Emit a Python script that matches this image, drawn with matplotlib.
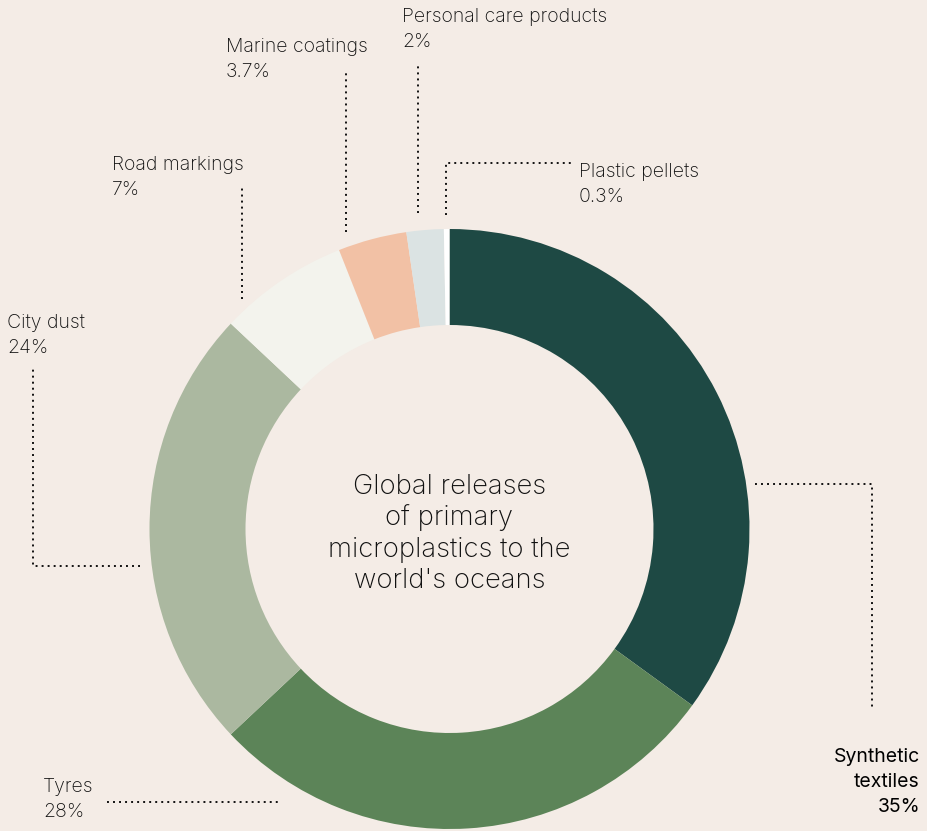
import matplotlib.pyplot as plt

# data
labels = ["Synthetic textiles", "Tyres", "City dust", "Road markings",
          "Marine coatings", "Personal care products", "Plastic pellets"]
values = [35, 28, 24, 7, 3.7, 2, 0.3]
pct_labels = ["35%", "28%", "24%", "7%", "3.7%", "2%", "0.3%"]
colors = ["#1e4944", "#5c8458", "#abb8a0", "#f3f3ed", "#f2c1a5", "#dbe3e3", "#ffffff"]

title_lines = ["Global releases", "of primary", "microplastics to the", "world's oceans"]

W, H = 927, 831
bg = "#f4ece6"
plt.rcParams['font.family'] = ['Inter', 'DejaVu Sans']

fig = plt.figure(figsize=(W / 100, H / 100), dpi=100, facecolor=bg)
ax = fig.add_axes([0, 0, 1, 1])
ax.set_facecolor(bg)


def Y(y):
    # pixel row (from top) -> data y
    return H - y


cx, cy, r = 449.5, 529, 300
ax.pie(values, colors=colors, startangle=90, counterclock=False,
       center=(cx, Y(cy)), radius=r, frame=True,
       wedgeprops=dict(width=96, linewidth=0))
ax.set_xlim(0, W)
ax.set_ylim(0, H)
ax.set_aspect('equal')
ax.axis('off')

# centre title
for i, line in enumerate(title_lines):
    ax.text(cx, Y(494 + i * 31.3), line, ha='center', va='baseline',
            fontsize=19.8, color='#111111', fontweight='light')

# labels: (x, first baseline, align)
label_pos = {
    "Synthetic textiles": (920, 762, 'right'),
    "Tyres": (43, 792, 'left'),
    "City dust": (7, 328, 'left'),
    "Road markings": (112, 170, 'left'),
    "Marine coatings": (226, 52, 'left'),
    "Personal care products": (402, 22, 'left'),
    "Plastic pellets": (579, 177, 'left'),
}

# leader lines (pixel polylines)
leaders = {
    "Synthetic textiles": [(755, 484), (872, 484), (872, 710)],
    "Tyres": [(107, 802), (281, 802)],
    "City dust": [(140, 566), (33, 566), (33, 367)],
    "Road markings": [(242, 299), (242, 185)],
    "Marine coatings": [(346, 232), (346, 70)],
    "Personal care products": [(418, 213), (418, 65)],
    "Plastic pellets": [(446, 215), (446, 163), (572, 163)],
}

for lab, pct in zip(labels, pct_labels):
    x, yb, ha = label_pos[lab]
    if lab == "Synthetic textiles":
        lines = ["Synthetic", "textiles", pct]
        col, fw = '#000000', 'normal'
    else:
        lines = [lab, pct]
        col, fw = '#111111', 'light'
    for i, line in enumerate(lines):
        ax.text(x, Y(yb + i * 25), line, ha=ha, va='baseline',
                fontsize=14, color=col, fontweight=fw)
    pts = leaders[lab]
    ax.plot([p[0] for p in pts], [Y(p[1]) for p in pts], color='#111111',
            linewidth=1.4, linestyle=(0, (1, 2.1)), solid_capstyle='butt')

fig.savefig("out.png", dpi=100, facecolor=bg)
